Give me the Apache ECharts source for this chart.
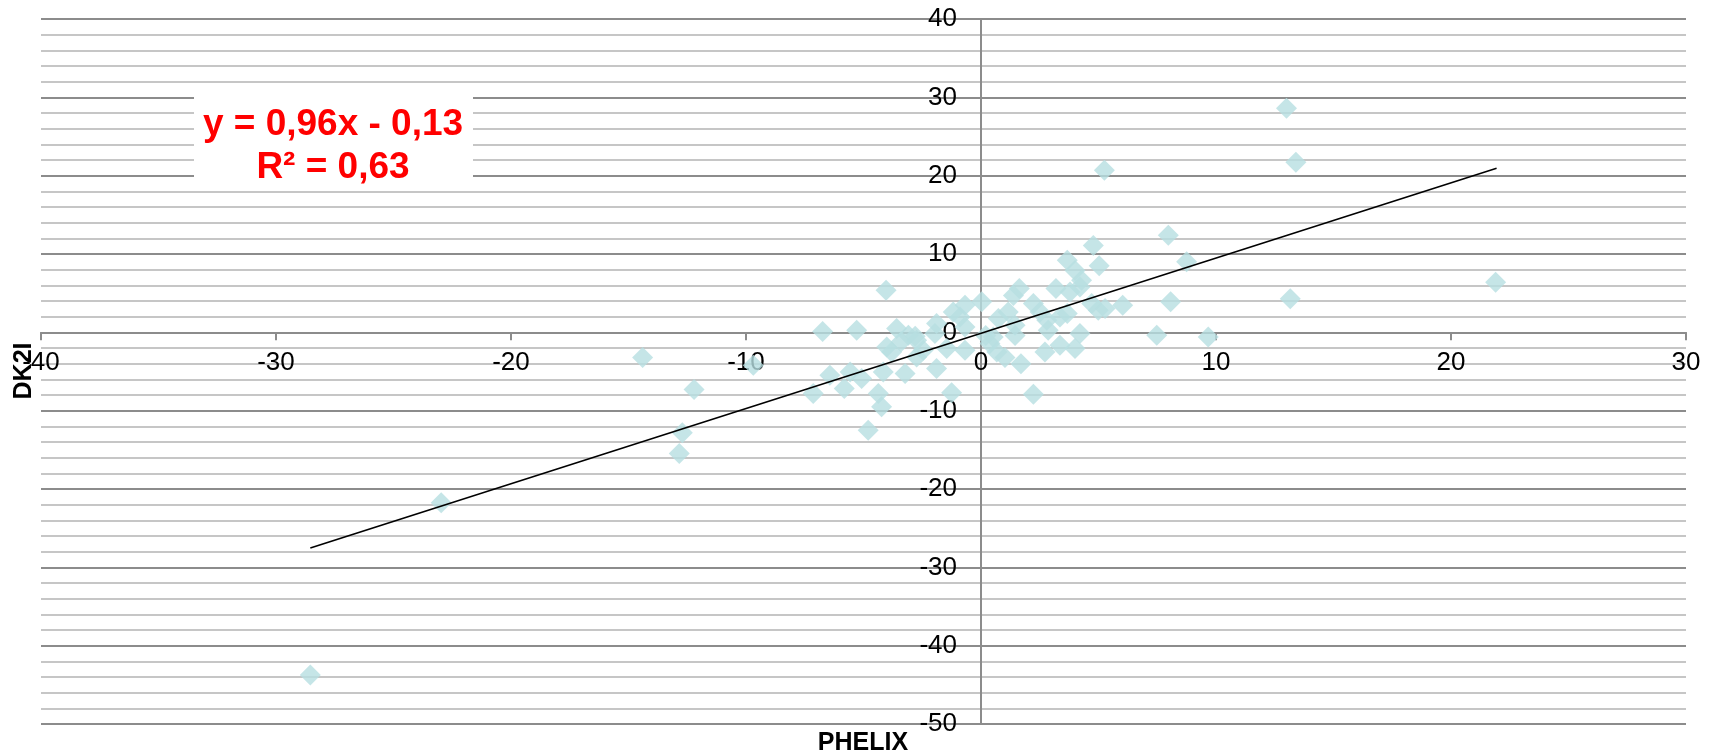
<!DOCTYPE html>
<html><head><meta charset="utf-8">
<script src="https://cdn.jsdelivr.net/npm/echarts@6/dist/echarts.min.js"></script>
<style>html,body{margin:0;padding:0;background:#fff}#c{width:1713px;height:756px}</style>
</head><body><div id="c"></div>
<script>
// PHELIX (x) values
const phelix = [
  13.0, 13.4, 5.25, 21.9, 13.16, 7.97, 4.78, 8.75, 5.03, 3.67,
  4.0, 4.28, -4.04, 1.63, 3.19, 0.03, 8.07, 6.03, 2.23, 1.38,
  3.79, 4.21, 4.99, 5.28, 4.71, 3.67, 3.36, 2.8, 2.51, 0.74,
  1.16, 1.45, 4.21, 2.86, 4.0, 3.36, 2.72, 7.48, 9.67, 2.23,
  1.7, 1.02, 0.67, 0.38, 0.52, -0.68, -0.89, -1.18, -0.68, -1.89,
  -1.96, -1.46, -0.68, -1.89, -1.25, -3.59, -3.09, -2.74, -2.46, -4.01,
  -3.8, -2.74, -5.29, -6.74, -6.43, -5.57, -5.08, -5.82, -7.14, -4.16,
  -3.23, -4.37, -4.23, -4.8, -14.4, -12.21, -12.71, -12.84, -9.69, -22.97,
  -28.54, -2.8, 1.45, 0.2, -3.4
];
// DK2I (y) values
const dk2i = [
  28.6, 21.7, 20.7, 6.4, 4.3, 12.4, 11.1, 9.0, 8.5, 9.2,
  7.9, 6.65, 5.37, 5.6, 5.6, 3.9, 3.9, 3.46, 3.67, 4.7,
  5.16, 5.8, 2.82, 3.03, 3.67, 2.4, 1.97, 1.55, 2.6, 1.76,
  2.6, 0.9, -0.16, 0.27, -2.07, -1.65, -2.5, -0.37, -0.58, -7.9,
  -4.0, -3.2, -2.5, -1.43, -0.58, 3.46, 1.97, 2.6, 0.69, 1.12,
  -0.16, -2.07, -2.29, -4.63, -7.7, 0.48, -0.37, -1.01, -2.28, -1.86,
  -2.5, -3.14, 0.27, 0.1, -5.47, -5.05, -5.9, -7.17, -7.81, -5.05,
  -5.26, -7.81, -9.51, -12.49, -3.2, -7.3, -12.83, -15.47, -4.2, -21.74,
  -43.76, -0.5, -0.4, -0.4, -1.2
];
// Linear trend shown on the chart: y = 0,96x - 0,13, drawn over the data's x range
const trendSlope = 0.96;
const trendIntercept = -0.13;
const trendXRange = [-28.54, 21.94];
const trendLabel = ['y = 0,96x - 0,13', 'R² = 0,63'];
const xName = 'PHELIX';
const yName = 'DK2I';
const xMin = -40, xMax = 30, yMin = -50, yMax = 40, step = 10;

const points = phelix.map((x, i) => [x, dk2i[i]]);
const trend = trendXRange.map(x => [x, trendSlope * x + trendIntercept]);

const W = 1713, H = 756;
const gridL = 41, gridR = 27, gridT = 19, gridB = 32;
const gw = W - gridL - gridR, gh = H - gridT - gridB;
// shift the axes so they cross at the origin
const xAxisOffset = -gh * (0 - yMin) / (yMax - yMin);
const yAxisOffset = -gw * (0 - xMin) / (xMax - xMin);

const font = '"Liberation Sans", Arial, sans-serif';
const axisColor = '#8c8c8c';

const chart = echarts.init(document.getElementById('c'), null, {renderer: 'canvas'});
chart.setOption({
  animation: false,
  backgroundColor: '#ffffff',
  grid: {left: gridL, right: gridR, top: gridT, bottom: gridB, containLabel: false},
  xAxis: {
    type: 'value', min: xMin, max: xMax, interval: step,
    position: 'bottom', offset: xAxisOffset,
    axisLine: {onZero: false, lineStyle: {color: axisColor, width: 2}},
    axisTick: {show: true, length: 8, lineStyle: {color: axisColor, width: 2}},
    axisLabel: {fontSize: 26, color: '#000', margin: 17, fontFamily: font},
    splitLine: {show: false}
  },
  yAxis: {
    type: 'value', min: yMin, max: yMax, interval: step,
    position: 'left', offset: yAxisOffset,
    axisLine: {onZero: false, lineStyle: {color: axisColor, width: 2}},
    axisTick: {show: true, length: 8, lineStyle: {color: axisColor, width: 2}},
    axisLabel: {fontSize: 26, color: '#000', margin: 24, fontFamily: font},
    splitLine: {show: true, lineStyle: {color: axisColor, width: 2}},
    minorTick: {show: false, splitNumber: 5},
    minorSplitLine: {show: true, lineStyle: {color: '#c6c6c6', width: 2}}
  },
  series: [
    {
      type: 'scatter', data: points, symbol: 'diamond', symbolSize: 21,
      itemStyle: {color: '#b7dee1'}, z: 2
    },
    {
      type: 'line', data: trend, symbol: 'none', z: 3,
      lineStyle: {color: '#000', width: 1.6}
    }
  ],
  graphic: [
    {type: 'rect', left: 194, top: 93, z: 10,
     shape: {width: 279, height: 95}, style: {fill: '#fff'}},
    {type: 'text', x: 333, y: 125, z: 11,
     style: {text: trendLabel[0], fill: '#ff0000', font: 'bold 37px ' + font, align: 'center', verticalAlign: 'middle'}},
    {type: 'text', x: 333, y: 168, z: 11,
     style: {text: trendLabel[1], fill: '#ff0000', font: 'bold 37px ' + font, align: 'center', verticalAlign: 'middle'}},
    {type: 'text', x: 863, y: 743, z: 11,
     style: {text: xName, fill: '#000', font: 'bold 25px ' + font, align: 'center', verticalAlign: 'middle'}},
    {type: 'text', x: 24, y: 371, rotation: Math.PI / 2, z: 11,
     style: {text: yName, fill: '#000', font: 'bold 25px ' + font, align: 'center', verticalAlign: 'middle'}}
  ]
});
</script>
</body></html>
